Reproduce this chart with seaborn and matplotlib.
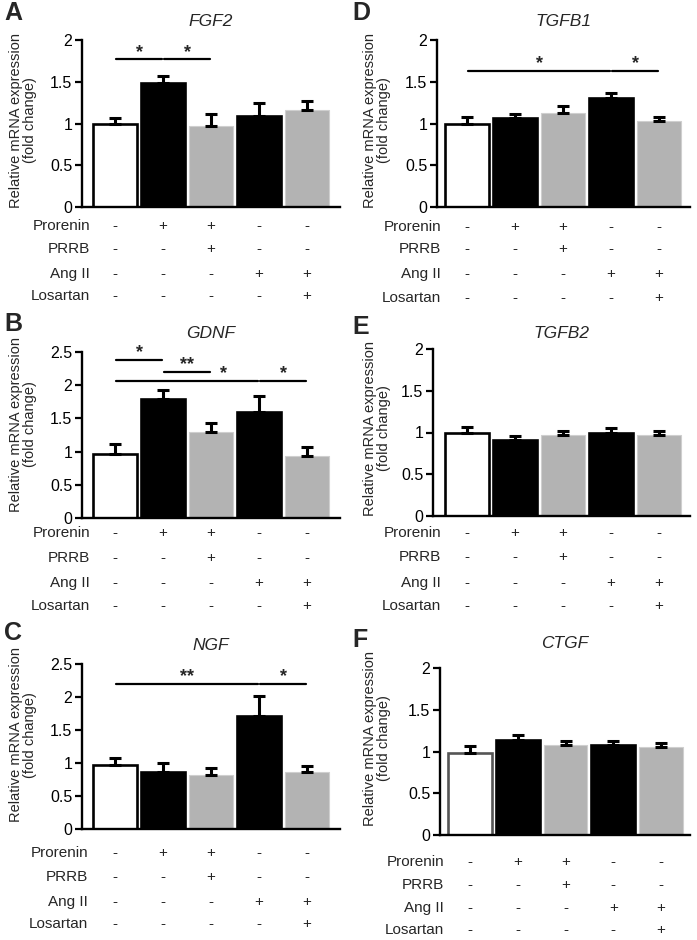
import numpy as np
import pandas as pd
import seaborn as sns
import matplotlib
matplotlib.use('Agg')
import matplotlib.pyplot as plt
import matplotlib.transforms as mtransforms
from matplotlib.ticker import FuncFormatter

# groups (same order in every panel)
groups = ['Control', 'Prorenin', 'Prorenin+PRRB', 'Ang II', 'Ang II+Losartan']
bar_colors = ['white', 'black', '#b3b3b3', 'black', '#b3b3b3']
edge_colors = ['black', 'black', '#cfcfcf', 'black', '#cfcfcf']

# treatment table under each panel
row_names = ['Prorenin', 'PRRB', 'Ang II', 'Losartan']
prorenin = ['-', '+', '+', '-', '-']
prrb = ['-', '-', '+', '-', '-']
ang2 = ['-', '-', '-', '+', '+']
losartan = ['-', '-', '-', '-', '+']

# mean fold change and upper SEM per gene
fgf2 = [1.00, 1.49, 0.97, 1.09, 1.16]
fgf2_err = [0.06, 0.08, 0.14, 0.15, 0.11]
gdnf = [0.97, 1.79, 1.29, 1.59, 0.93]
gdnf_err = [0.15, 0.14, 0.14, 0.25, 0.14]
ngf = [0.97, 0.86, 0.82, 1.71, 0.86]
ngf_err = [0.11, 0.14, 0.10, 0.30, 0.10]
tgfb1 = [0.99, 1.06, 1.12, 1.31, 1.03]
tgfb1_err = [0.09, 0.05, 0.09, 0.05, 0.05]
tgfb2 = [1.00, 0.91, 0.97, 1.00, 0.97]
tgfb2_err = [0.06, 0.05, 0.05, 0.05, 0.05]
ctgf = [0.98, 1.14, 1.08, 1.08, 1.05]
ctgf_err = [0.09, 0.06, 0.05, 0.05, 0.05]

# significance brackets: (from, to, height, label, label x)
fgf2_sig = [(0, 1, 1.77, '*', 0.5), (1, 2, 1.77, '*', 1.5)]
gdnf_sig = [(0, 1, 2.38, '*', 0.5), (1, 2, 2.2, '**', 1.5),
            (0, 3, 2.07, '*', 2.25), (3, 4, 2.07, '*', 3.5)]
ngf_sig = [(0, 3, 2.2, '**', 1.5), (3, 4, 2.2, '*', 3.5)]
tgfb1_sig = [(0, 3, 1.63, '*', 1.5), (3, 4, 1.63, '*', 3.5)]

sns.set_style('ticks')
plt.rcParams['font.family'] = ['Liberation Sans', 'DejaVu Sans']

W, H = 697, 940
fig = plt.figure(figsize=(W / 100, H / 100), dpi=100)


def fx(x):
    return x / W


def fy(y):
    return 1 - y / H


# layout in pixels: left, right, top, bottom(y=0), first/last bar centre, label x, rows y
panels = [
    dict(letter='A', gene='FGF2', vals=fgf2, errs=fgf2_err, sig=fgf2_sig, ymax=2,
         box=(82, 340, 40, 207), c=(115, 307), lab_x=90, rows=(226, 249, 274, 296),
         let=(4, 13), yl=(23, 120), tt=22, ctrl_edge='black'),
    dict(letter='B', gene='GDNF', vals=gdnf, errs=gdnf_err, sig=gdnf_sig, ymax=2.5,
         box=(82, 340, 352, 518), c=(115, 307), lab_x=90, rows=(533, 558, 583, 606),
         let=(4, 324), yl=(23, 424), tt=333, ctrl_edge='black'),
    dict(letter='C', gene='NGF', vals=ngf, errs=ngf_err, sig=ngf_sig, ymax=2.5,
         box=(82, 340, 664, 829), c=(115, 307), lab_x=88, rows=(853, 877, 902, 924),
         let=(4, 633), yl=(23, 735), tt=645, ctrl_edge='black'),
    dict(letter='D', gene='TGFB1', vals=tgfb1, errs=tgfb1_err, sig=tgfb1_sig, ymax=2,
         box=(437, 690, 40, 207), c=(467, 659), lab_x=441, rows=(227, 249, 274, 298),
         let=(352, 13), yl=(377, 120), tt=22, ctrl_edge='black'),
    dict(letter='E', gene='TGFB2', vals=tgfb2, errs=tgfb2_err, sig=[], ymax=2,
         box=(433, 690, 349, 516), c=(467, 659), lab_x=441, rows=(533, 557, 583, 606),
         let=(352, 327), yl=(377, 428), tt=333, ctrl_edge='black'),
    dict(letter='F', gene='CTGF', vals=ctgf, errs=ctgf_err, sig=[], ymax=2,
         box=(440, 690, 668, 835), c=(470, 661), lab_x=444, rows=(862, 885, 908, 930),
         let=(352, 640), yl=(377, 738), tt=643, ctrl_edge='#555555'),
]

table = [prorenin, prrb, ang2, losartan]

for p in panels:
    left, right, top, bottom = p['box']
    ax = fig.add_axes([fx(left), fy(bottom), (right - left) / W, (bottom - top) / H])
    df = pd.DataFrame({'group': groups, 'value': p['vals']})
    sns.barplot(data=df, x='group', y='value', hue='group', palette=bar_colors,
                order=groups, hue_order=groups, width=0.92, legend=False, ax=ax,
                errorbar=None, saturation=1)
    edges = [p['ctrl_edge']] + edge_colors[1:]
    for patch, ec in zip(ax.patches, edges):
        patch.set_edgecolor(ec)
        patch.set_linewidth(0.8 if ec == '#cfcfcf' else 1.9)
    xs = np.arange(len(groups))
    ax.errorbar(xs, p['vals'], yerr=[np.zeros(5), p['errs']], fmt='none',
                ecolor='black', elinewidth=2.2, capsize=4.5, capthick=2.2, zorder=1)

    sp = (p['c'][1] - p['c'][0]) / 4
    ax.set_xlim((left - p['c'][0]) / sp, 4 + (right - p['c'][1]) / sp)
    ax.set_ylim(0, p['ymax'])
    ax.set_yticks(np.arange(0, p['ymax'] + 0.01, 0.5))
    ax.yaxis.set_major_formatter(FuncFormatter(lambda v, pos: '%g' % v))
    ax.set_xticks([])
    ax.set_xlabel('')
    ax.set_ylabel('')
    ax.tick_params(axis='y', length=5, width=1.6, labelsize=11.5, pad=2, colors='black')
    for s in ['top', 'right']:
        ax.spines[s].set_visible(False)
    for s in ['left', 'bottom']:
        ax.spines[s].set_linewidth(1.7)
        ax.spines[s].set_color('black')

    for i, j, y, lab, lx in p['sig']:
        ax.plot([i + 0.03, j - 0.03], [y, y], color='black', lw=1.6, clip_on=False)
        ax.text(lx, y - 0.02, lab, ha='center', va='bottom', fontsize=13,
                fontweight='bold')

    fig.text(fx((left + right) / 2), fy(p['tt']), p['gene'], ha='center', va='center',
             fontsize=12.5, style='italic')
    fig.text(fx(p['let'][0]), fy(p['let'][1]), p['letter'], ha='left', va='center',
             fontsize=18, fontweight='bold')
    fig.text(fx(p['yl'][0]), fy(p['yl'][1]), 'Relative mRNA expression\n(fold change)',
             rotation=90, ha='center', va='center', multialignment='center',
             fontsize=10.5, linespacing=0.95)

    trans = mtransforms.blended_transform_factory(ax.transData, fig.transFigure)
    for name, signs, ry in zip(row_names, table, p['rows']):
        fig.text(fx(p['lab_x']), fy(ry), name, ha='right', va='center', fontsize=11)
        for k, sgn in enumerate(signs):
            ax.text(k, fy(ry), sgn, transform=trans, ha='center', va='center',
                    fontsize=11, clip_on=False)

fig.savefig('out.png', dpi=100)
